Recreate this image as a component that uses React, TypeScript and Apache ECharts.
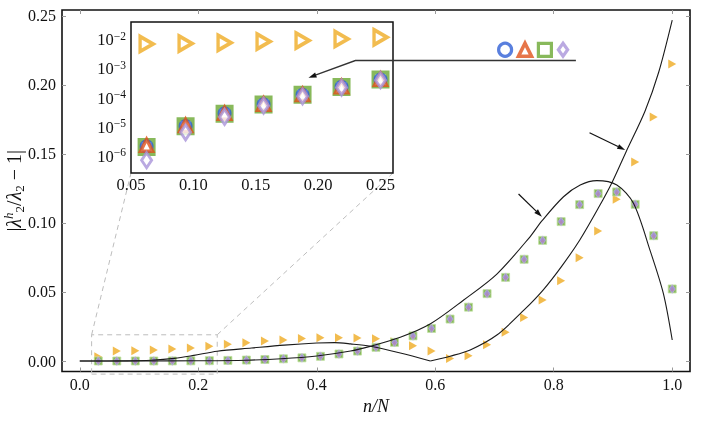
import React, { useEffect, useRef } from 'react';
import * as echarts from 'echarts';

// ---------- data ----------
const X_POS = [0.03125, 0.0625, 0.09375, 0.125, 0.15625, 0.1875, 0.21875, 0.25, 0.28125, 0.3125, 0.34375, 0.375, 0.40625, 0.4375, 0.46875, 0.5, 0.53125, 0.5625, 0.59375, 0.625, 0.65625, 0.6875, 0.71875, 0.75, 0.78125, 0.8125, 0.84375, 0.875, 0.90625, 0.9375, 0.96875, 1.0];

const GREEN_V = [1.2e-7, 2.1e-6, 1.08e-5, 2.9e-5, 6.0e-5, 1.3e-4, 2.4e-4, 4.3e-4, 0.0007, 0.0011, 0.0016, 0.0023, 0.0034, 0.0051, 0.0072, 0.0099, 0.0135, 0.0182, 0.0236, 0.0304, 0.039, 0.0488, 0.0606, 0.0737, 0.0874, 0.101, 0.1133, 0.1213, 0.1225, 0.1135, 0.0908, 0.0522];
const BLUE_V = [1.2e-7, 2.2e-6, 1.1e-5, 3.0e-5, 6.1e-5, 1.3e-4, 2.45e-4, 4.3e-4, 0.0007, 0.0011, 0.0016, 0.0023, 0.0034, 0.0051, 0.0072, 0.0099, 0.0135, 0.0182, 0.0236, 0.0304, 0.039, 0.0488, 0.0606, 0.0737, 0.0874, 0.101, 0.1133, 0.1213, 0.1225, 0.1135, 0.0908, 0.0522];
const RED_V = [1.3e-7, 2.4e-6, 1.15e-5, 3.0e-5, 6.2e-5, 1.32e-4, 2.45e-4, 4.4e-4, 0.0007, 0.0011, 0.0016, 0.0023, 0.0034, 0.0051, 0.0072, 0.0099, 0.0135, 0.0182, 0.0236, 0.0304, 0.039, 0.0488, 0.0606, 0.0737, 0.0874, 0.101, 0.1133, 0.1213, 0.1225, 0.1135, 0.0908, 0.0522];
const PURPLE_V = [5e-8, 7.4e-7, 6.7e-6, 2.25e-5, 5.5e-5, 1.15e-4, 2.3e-4, 4.1e-4, 0.0007, 0.0011, 0.0016, 0.0023, 0.0034, 0.0051, 0.0072, 0.0099, 0.0135, 0.0182, 0.0236, 0.0304, 0.039, 0.0488, 0.0606, 0.0737, 0.0874, 0.101, 0.1133, 0.1213, 0.1225, 0.1135, 0.0908, 0.0522];
const ORANGE_V = [0.0031, 0.0072, 0.0074, 0.0079, 0.0087, 0.0094, 0.0107, 0.0122, 0.0133, 0.0145, 0.0153, 0.0163, 0.0168, 0.0169, 0.0166, 0.0162, 0.014, 0.0111, 0.0072, 0.0019, 0.0039, 0.0118, 0.0208, 0.0316, 0.0442, 0.0582, 0.0749, 0.0942, 0.1172, 0.1442, 0.1768, 0.2152];

// black guide curves
const CURVE_P_X = [0, 0.1, 0.2, 0.28, 0.34, 0.4, 0.457, 0.49, 0.541, 0.592, 0.648, 0.704, 0.76, 0.78, 0.8165, 0.8447, 0.8728, 0.9065, 0.9346, 0.9627, 0.985, 1.0];
const CURVE_P_Y = [0, 0.00002, 0.0002, 0.0006, 0.0016, 0.0036, 0.0072, 0.0106, 0.0172, 0.027, 0.0442, 0.063, 0.09, 0.1015, 0.119, 0.1275, 0.1307, 0.1275, 0.1143, 0.08, 0.049, 0.0152];
const CURVE_QL_X = [0, 0.08, 0.12, 0.16, 0.1925, 0.232, 0.29, 0.345, 0.4, 0.43, 0.457, 0.4905, 0.541, 0.5917];
const CURVE_QL_Y = [0, 0.0001, 0.0005, 0.0019, 0.0041, 0.0071, 0.0094, 0.0115, 0.013, 0.0133, 0.0124, 0.0107, 0.0058, 0];
const CURVE_QR_X = [0.5917, 0.625, 0.659, 0.704, 0.75, 0.782, 0.813, 0.844, 0.875, 0.898, 0.922, 0.954, 0.977, 1.0];
const CURVE_QR_Y = [0, 0.0035, 0.008, 0.0188, 0.037, 0.0514, 0.0684, 0.0877, 0.1106, 0.129, 0.1515, 0.181, 0.209, 0.247];

const X_TICKS = [0, 0.2, 0.4, 0.6, 0.8, 1.0];
const Y_TICKS = [0, 0.05, 0.1, 0.15, 0.2, 0.25];
const INSET_X_TICKS = [0.05, 0.1, 0.15, 0.2, 0.25];

const SERIES_NAMES = ['a', 'b', 'c', 'd'];

// annotation anchors (data coordinates)
const ZOOM_BOX = { x0: 0.02, x1: 0.232, y0: -0.0095, y1: 0.019 };
const LEGEND_LINE = { xEnd: 0.8374, xCorner: 0.4652, y: 0.2177 };
const LEGEND_ARROW_TIP_INSET = [0.1923, 5.0e-4];
const ARROW_P = { from: [0.7406, 0.121], to: [0.78, 0.1046] };
const ARROW_Q = { from: [0.8604, 0.1654], to: [0.9206, 0.1529] };

// ---------- styles ----------
const FONT = "'Liberation Serif', 'DejaVu Serif', serif";
const C_BLUE = '#2f5fd6';
const C_RED = '#e0521c';
const C_GREEN = '#6aa832';
const C_PURPLE = '#a993d9';
const C_ORANGE = '#efab23';
const TRI_RIGHT = 'path://M0,0L10,6L0,12Z';
const DIAMOND_TALL = 'path://M0,-7L5,0L0,7L-5,0Z';

const tick = { show: true, inside: true, length: 4, lineStyle: { color: '#9a9a9a', width: 1 } };
const noLine = { show: false, onZero: false };

export default function App() {
  const ref = useRef<HTMLDivElement>(null);
  useEffect(() => {
    const chart = echarts.init(ref.current as HTMLDivElement, null, { renderer: 'svg' });
    const pts = (ys: number[]) => X_POS.map((x, i) => [x, ys[i]]);
    const xy = (xs: number[], ys: number[]) => xs.map((x, i) => [x, ys[i]]);

    const mainScatter = (name: string | undefined, data: any, symbol: string, size: any, style: any) => ({
      type: 'scatter', name, xAxisIndex: 0, yAxisIndex: 0, data, symbol, symbolSize: size, itemStyle: style, z: 3,
    });
    const insetScatter = (name: string | undefined, data: any, symbol: string, size: any, style: any) => ({
      type: 'scatter', name, xAxisIndex: 2, yAxisIndex: 2, data, symbol, symbolSize: size, itemStyle: style, z: 3, clip: true,
    });
    const curve = (data: any) => ({
      type: 'line', xAxisIndex: 0, yAxisIndex: 0, data, showSymbol: false, symbol: 'none', smooth: 0.3,
      lineStyle: { color: '#1a1a1a', width: 1.1 }, z: 4, silent: true,
    });

    const option: any = {
      animation: false,
      textStyle: { fontFamily: FONT },
      grid: [
        { left: 62, top: 10, width: 628, height: 361.5, show: true, borderColor: '#111', borderWidth: 1.6, backgroundColor: 'transparent', outerBoundsMode: 'none', containLabel: false },
        { left: 131, top: 22, width: 262, height: 151, show: true, borderColor: '#111', borderWidth: 1.5, backgroundColor: '#fff', z: 1, outerBoundsMode: 'none', containLabel: false },
      ],
      legend: {
        left: 497, top: 41.5, padding: 0, orient: 'horizontal', itemWidth: 13, itemHeight: 13, itemGap: 3.5,
        selectedMode: false, formatter: () => '', textStyle: { fontSize: 1 },
        data: [
          { name: SERIES_NAMES[0], icon: 'circle', itemStyle: { color: '#fff', borderColor: C_BLUE, borderWidth: 3.2 } },
          { name: SERIES_NAMES[1], icon: 'triangle', itemStyle: { color: '#fff', borderColor: C_RED, borderWidth: 3.6 } },
          { name: SERIES_NAMES[2], icon: 'rect', itemStyle: { color: '#fff', borderColor: C_GREEN, borderWidth: 3.2 } },
          { name: SERIES_NAMES[3], icon: DIAMOND_TALL, itemStyle: { color: '#fff', borderColor: C_PURPLE, borderWidth: 3.2 } },
        ],
      },
      xAxis: [
        {
          type: 'value', gridIndex: 0, min: -0.03, max: 1.03, position: 'bottom',
          axisLine: noLine, splitLine: { show: false },
          axisTick: { ...tick, customValues: X_TICKS },
          axisLabel: { customValues: X_TICKS, formatter: (v: number) => v.toFixed(1), fontSize: 16, color: '#111', fontFamily: FONT, margin: 5 },
          name: 'n/N', nameLocation: 'middle', nameGap: 25, nameMoveOverlap: false,
          nameTextStyle: { fontSize: 18, fontStyle: 'italic', color: '#111', fontFamily: FONT },
        },
        {
          type: 'value', gridIndex: 0, min: -0.03, max: 1.03, position: 'top',
          axisLine: noLine, splitLine: { show: false },
          axisTick: { ...tick, customValues: X_TICKS }, axisLabel: { show: false },
        },
        {
          type: 'value', gridIndex: 1, min: 0.05, max: 0.26, position: 'bottom',
          axisLine: noLine, splitLine: { show: false },
          axisTick: { ...tick, customValues: INSET_X_TICKS },
          axisLabel: { customValues: INSET_X_TICKS, formatter: (v: number) => v.toFixed(2), fontSize: 16.5, color: '#111', fontFamily: FONT, margin: 3 },
        },
      ],
      yAxis: [
        {
          type: 'value', gridIndex: 0, min: -0.0076, max: 0.2543, position: 'left',
          axisLine: noLine, splitLine: { show: false },
          axisTick: { ...tick, customValues: Y_TICKS },
          axisLabel: { customValues: Y_TICKS, formatter: (v: number) => v.toFixed(2), fontSize: 16, color: '#111', fontFamily: FONT, margin: 6 },
          name: '|{it|λ}{sup|h}{sub|2}/{it|λ}{sub|2} − 1|', nameLocation: 'middle', nameGap: 36, nameRotate: 90,
          nameMoveOverlap: false,
          nameTextStyle: {
            fontSize: 20, color: '#111', fontFamily: FONT, lineHeight: 24,
            rich: {
              it: { fontSize: 20, fontStyle: 'italic', fontFamily: FONT, color: '#111', lineHeight: 24 },
              sup: { fontSize: 13, fontStyle: 'italic', fontFamily: FONT, color: '#111', verticalAlign: 'top', lineHeight: 13 },
              sub: { fontSize: 13, fontFamily: FONT, color: '#111', verticalAlign: 'bottom', lineHeight: 13 },
            },
          },
        },
        {
          type: 'value', gridIndex: 0, min: -0.0076, max: 0.2543, position: 'right',
          axisLine: noLine, splitLine: { show: false },
          axisTick: { ...tick, customValues: Y_TICKS }, axisLabel: { show: false },
        },
        {
          type: 'log', gridIndex: 1, logBase: 10, min: Math.pow(10, -6.57), max: Math.pow(10, -1.39), position: 'left',
          axisLine: noLine, splitLine: { show: false }, minorTick: { show: false },
          axisTick: { ...tick },
          axisLabel: {
            fontSize: 16.5, color: '#111', fontFamily: FONT, margin: 5, lineHeight: 20,
            showMinLabel: false, showMaxLabel: false,
            formatter: (v: number) => {
              const e = Math.log10(v);
              if (Math.abs(e - Math.round(e)) > 0.02) return '';
              return '10{sup|−' + Math.abs(Math.round(e)) + '}';
            },
            rich: { sup: { fontSize: 11.5, fontFamily: FONT, color: '#111', verticalAlign: 'top', lineHeight: 11 } },
          },
        },
      ],
      series: [
        // main panel
        mainScatter(undefined, pts(ORANGE_V), TRI_RIGHT, [8, 9], { color: C_ORANGE }),
        mainScatter(SERIES_NAMES[2], pts(GREEN_V), 'rect', 8, { color: C_GREEN, borderColor: '#bfe1a0', borderWidth: 1 }),
        mainScatter(SERIES_NAMES[0], pts(BLUE_V), 'circle', 5, { color: '#7f95e3' }),
        mainScatter(SERIES_NAMES[1], pts(RED_V), 'triangle', 4, { color: C_RED }),
        mainScatter(SERIES_NAMES[3], pts(PURPLE_V), 'diamond', [6, 9], { color: C_PURPLE, borderColor: '#c9baea', borderWidth: 0.6 }),
        curve(xy(CURVE_P_X, CURVE_P_Y)),
        curve(xy(CURVE_QL_X, CURVE_QL_Y)),
        curve(xy(CURVE_QR_X, CURVE_QR_Y)),
        // inset panel
        insetScatter(undefined, pts(ORANGE_V), TRI_RIGHT, [13, 15], { color: '#fff', borderColor: C_ORANGE, borderWidth: 3.6 }),
        insetScatter(SERIES_NAMES[2], pts(GREEN_V), 'rect', 14, { color: '#fff', borderColor: C_GREEN, borderWidth: 4 }),
        insetScatter(SERIES_NAMES[0], pts(BLUE_V), 'circle', 11, { color: '#fff', borderColor: C_BLUE, borderWidth: 3 }),
        insetScatter(SERIES_NAMES[1], pts(RED_V), 'triangle', 12, { color: '#fff', borderColor: C_RED, borderWidth: 3.5 }),
        insetScatter(SERIES_NAMES[3], pts(PURPLE_V), DIAMOND_TALL, [10, 15], { color: '#fff', borderColor: C_PURPLE, borderWidth: 3 }),
      ],
    };
    chart.setOption(option);

    // annotations in pixel space, anchored to data coordinates
    const pm = (x: number, y: number) => chart.convertToPixel({ seriesIndex: 1 }, [x, y]) as number[];
    const pi = (x: number, y: number) => chart.convertToPixel({ seriesIndex: 9 }, [x, y]) as number[];
    const head = (from: number[], to: number[], len = 8, half = 2.6) => {
      const dx = to[0] - from[0];
      const dy = to[1] - from[1];
      const L = Math.hypot(dx, dy);
      const ux = dx / L;
      const uy = dy / L;
      const bx = to[0] - ux * len;
      const by = to[1] - uy * len;
      return {
        base: [bx, by],
        poly: {
          type: 'polygon', z: 20, silent: true,
          shape: { points: [to, [bx - uy * half, by + ux * half], [bx + uy * half, by - ux * half]] },
          style: { fill: '#111' },
        },
      };
    };
    const dashed = { stroke: '#bdbdbd', lineWidth: 1, lineDash: [5, 4], fill: null };

    const b00 = pm(ZOOM_BOX.x0, ZOOM_BOX.y0);
    const b10 = pm(ZOOM_BOX.x1, ZOOM_BOX.y0);
    const b11 = pm(ZOOM_BOX.x1, ZOOM_BOX.y1);
    const b01 = pm(ZOOM_BOX.x0, ZOOM_BOX.y1);
    const insBL = pi(0.05, Math.pow(10, -6.57));
    const insBR = pi(0.26, Math.pow(10, -6.57));

    const lEnd = pm(LEGEND_LINE.xEnd, LEGEND_LINE.y);
    const lCorner = pm(LEGEND_LINE.xCorner, LEGEND_LINE.y);
    const lTip = pi(LEGEND_ARROW_TIP_INSET[0], LEGEND_ARROW_TIP_INSET[1]);
    const h1 = head(lCorner, lTip);
    const aPf = pm(ARROW_P.from[0], ARROW_P.from[1]);
    const aPt = pm(ARROW_P.to[0], ARROW_P.to[1]);
    const h2 = head(aPf, aPt);
    const aQf = pm(ARROW_Q.from[0], ARROW_Q.from[1]);
    const aQt = pm(ARROW_Q.to[0], ARROW_Q.to[1]);
    const h3 = head(aQf, aQt);
    const lineStyle = { stroke: '#111', lineWidth: 1.2, fill: null };

    chart.setOption({
      graphic: [
        { type: 'polyline', z: 0, silent: true, shape: { points: [b00, b10, b11, b01, b00] }, style: dashed },
        { type: 'line', z: 0, silent: true, shape: { x1: b01[0], y1: b01[1], x2: insBL[0], y2: insBL[1] }, style: dashed },
        { type: 'line', z: 0, silent: true, shape: { x1: b11[0], y1: b11[1], x2: insBR[0], y2: insBR[1] }, style: dashed },
        { type: 'polyline', z: 20, silent: true, shape: { points: [lEnd, lCorner, h1.base] }, style: { stroke: '#333', lineWidth: 1.3, fill: null } },
        h1.poly,
        { type: 'line', z: 20, silent: true, shape: { x1: aPf[0], y1: aPf[1], x2: h2.base[0], y2: h2.base[1] }, style: lineStyle },
        h2.poly,
        { type: 'line', z: 20, silent: true, shape: { x1: aQf[0], y1: aQf[1], x2: h3.base[0], y2: h3.base[1] }, style: lineStyle },
        h3.poly,
      ],
    });

    return () => chart.dispose();
  }, []);
  return <div ref={ref} style={{ position: 'fixed', left: 0, top: 0, width: 706, height: 423 }} />;
}
